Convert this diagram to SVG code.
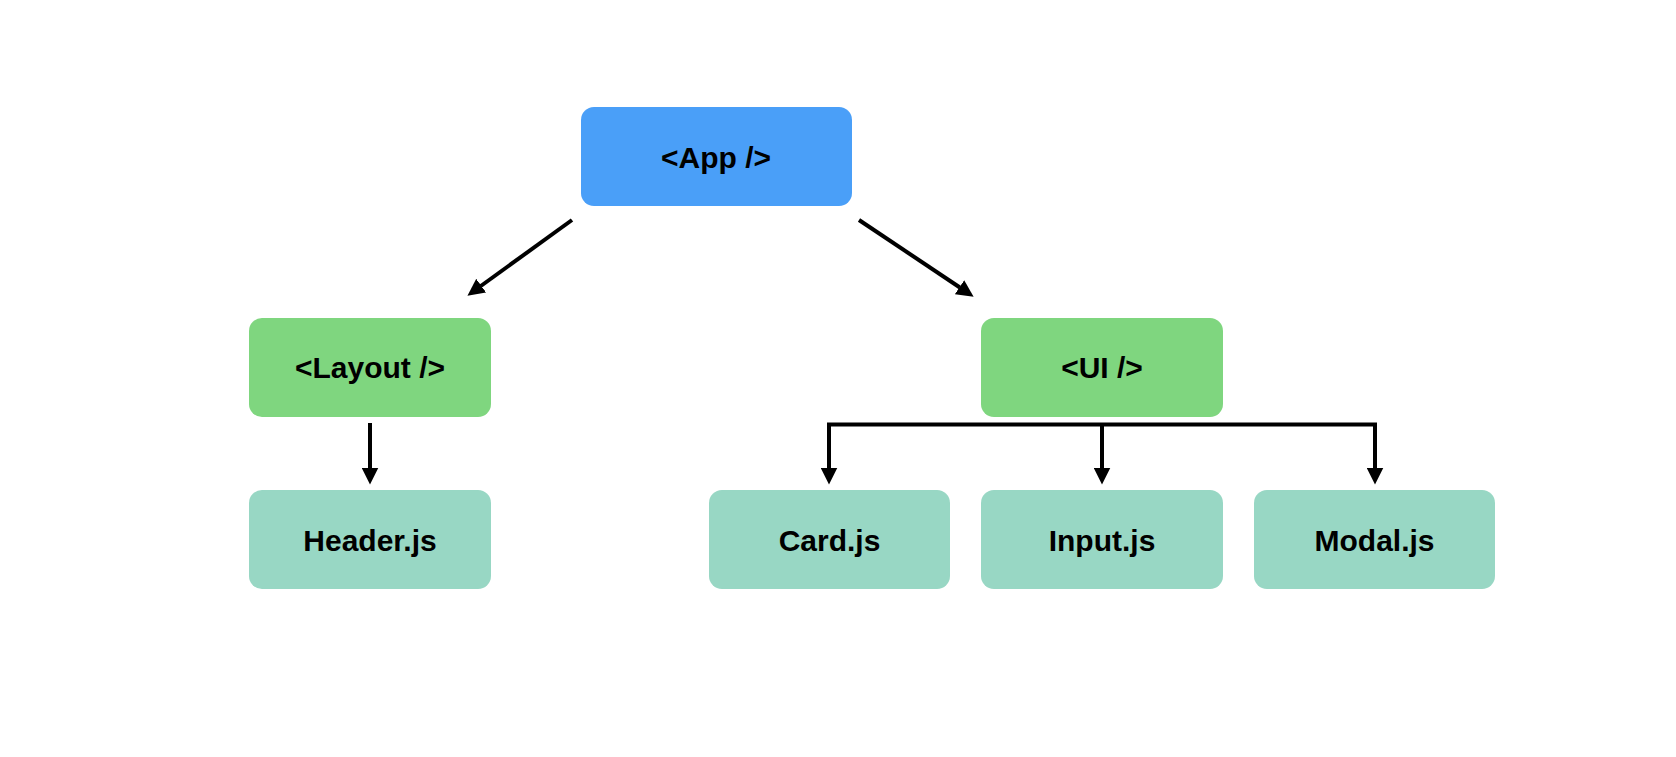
<svg xmlns="http://www.w3.org/2000/svg" width="1676" height="757" viewBox="0 0 1676 757">
  <defs>
    <style>
      .box { stroke: none; }
      .app { fill: #4A9FF8; }
      .mid { fill: #7FD67F; }
      .leaf { fill: #98D7C4; }
      .lbl { font-family: "Liberation Sans", Arial, Helvetica, sans-serif; font-weight: bold; font-size: 30px; fill: #000; text-anchor: middle; }
      .conn { fill: none; stroke: #000; stroke-width: 4; stroke-linecap: butt; }
    </style>
    <marker id="arr" viewBox="0 0 17 17" refX="0.5" refY="8.5" markerUnits="userSpaceOnUse" markerWidth="17" markerHeight="17" orient="auto">
      <path d="M0,0 L17,8.5 L0,17 Z" fill="#000"/>
    </marker>
  </defs>
  <rect width="1676" height="757" fill="#fff"/>

  <g id="connectors">
    <line class="conn" x1="572" y1="220" x2="480.8" y2="286" marker-end="url(#arr)"/>
    <line class="conn" x1="859" y1="220" x2="959.9" y2="287.5" marker-end="url(#arr)"/>
    <line class="conn" x1="370" y1="423" x2="370" y2="468" marker-end="url(#arr)"/>
    <line class="conn" x1="827" y1="424.5" x2="1377" y2="424.5"/>
    <line class="conn" x1="829" y1="424.5" x2="829" y2="468" marker-end="url(#arr)"/>
    <line class="conn" x1="1102" y1="424.5" x2="1102" y2="468" marker-end="url(#arr)"/>
    <line class="conn" x1="1375" y1="424.5" x2="1375" y2="468" marker-end="url(#arr)"/>
  </g>

  <g id="node-app">
    <rect class="box app" x="581" y="107" width="271" height="99" rx="13"/>
    <text class="lbl" x="716" y="168">&lt;App /&gt;</text>
  </g>
  <g id="node-layout">
    <rect class="box mid" x="249" y="318" width="242" height="99" rx="13"/>
    <text class="lbl" x="370" y="378">&lt;Layout /&gt;</text>
  </g>
  <g id="node-ui">
    <rect class="box mid" x="981" y="318" width="242" height="99" rx="13"/>
    <text class="lbl" x="1102" y="378">&lt;UI /&gt;</text>
  </g>
  <g id="node-header">
    <rect class="box leaf" x="249" y="490" width="242" height="99" rx="13"/>
    <text class="lbl" x="370" y="551">Header.js</text>
  </g>
  <g id="node-card">
    <rect class="box leaf" x="709" y="490" width="241" height="99" rx="13"/>
    <text class="lbl" x="829.5" y="551">Card.js</text>
  </g>
  <g id="node-input">
    <rect class="box leaf" x="981" y="490" width="242" height="99" rx="13"/>
    <text class="lbl" x="1102" y="551">Input.js</text>
  </g>
  <g id="node-modal">
    <rect class="box leaf" x="1254" y="490" width="241" height="99" rx="13"/>
    <text class="lbl" x="1374.5" y="551">Modal.js</text>
  </g>
</svg>
